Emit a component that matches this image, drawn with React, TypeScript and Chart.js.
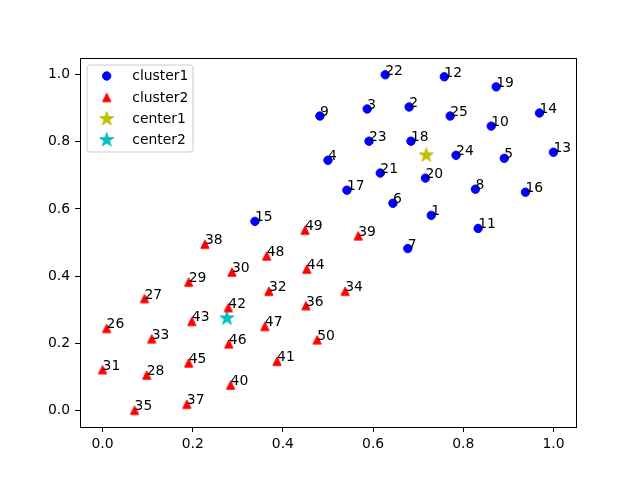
import React, { useEffect, useRef } from "react";
import { Chart, registerables } from "chart.js";

Chart.register(...registerables);

// ---------- data ----------
const cluster1Ids = [1, 2, 3, 4, 5, 6, 7, 8, 9, 10, 11, 12, 13, 14, 15, 16, 17, 18, 19, 20, 21, 22, 23, 24, 25];
const cluster1X = [0.729, 0.68, 0.587, 0.5, 0.891, 0.644, 0.677, 0.827, 0.482, 0.862, 0.833, 0.758, 1.0, 0.969, 0.338, 0.938, 0.542, 0.684, 0.873, 0.716, 0.616, 0.627, 0.591, 0.784, 0.771];
const cluster1Y = [0.581, 0.904, 0.898, 0.745, 0.751, 0.617, 0.482, 0.659, 0.877, 0.847, 0.542, 0.994, 0.769, 0.886, 0.563, 0.65, 0.656, 0.802, 0.964, 0.692, 0.707, 1.0, 0.802, 0.76, 0.877];

const cluster2Ids = [26, 27, 28, 29, 30, 31, 32, 33, 34, 35, 36, 37, 38, 39, 40, 41, 42, 43, 44, 45, 46, 47, 48, 49, 50];
const cluster2X = [0.009, 0.093, 0.098, 0.191, 0.287, 0.0, 0.369, 0.109, 0.538, 0.071, 0.451, 0.187, 0.227, 0.567, 0.284, 0.387, 0.279, 0.198, 0.453, 0.191, 0.28, 0.36, 0.364, 0.449, 0.476];
const cluster2Y = [0.244, 0.333, 0.105, 0.382, 0.412, 0.121, 0.355, 0.213, 0.355, 0.0, 0.312, 0.018, 0.495, 0.52, 0.075, 0.146, 0.306, 0.265, 0.421, 0.141, 0.198, 0.25, 0.46, 0.537, 0.21];

const center1 = [0.718, 0.76];
const center2 = [0.276, 0.274];

const seriesNames = ["cluster1", "cluster2", "center1", "center2"];
const xTicks = [0.0, 0.2, 0.4, 0.6, 0.8, 1.0];
const yTicks = [0.0, 0.2, 0.4, 0.6, 0.8, 1.0];

// ---------- styling ----------
const FONT_FAMILY = "'DejaVu Sans', sans-serif";
const FONT_SIZE = 13.9;
const BLUE = "#0000ff";
const RED = "#ff0000";
const YELLOW = "#bfbf00";
const CYAN = "#00bfbf";

function makeTriangle(color: string): HTMLCanvasElement {
  const c = document.createElement("canvas");
  c.width = 12;
  c.height = 12;
  const ctx = c.getContext("2d")!;
  const h = 4.17;
  ctx.beginPath();
  ctx.moveTo(6, 6 - h);
  ctx.lineTo(6 - h, 6 + h);
  ctx.lineTo(6 + h, 6 + h);
  ctx.closePath();
  ctx.fillStyle = color;
  ctx.strokeStyle = color;
  ctx.lineWidth = 1;
  ctx.lineJoin = "miter";
  ctx.fill();
  ctx.stroke();
  return c;
}

function makeStar(color: string): HTMLCanvasElement {
  const c = document.createElement("canvas");
  c.width = 20;
  c.height = 20;
  const ctx = c.getContext("2d")!;
  const R = 7.4;
  const r = R * 0.381966;
  ctx.beginPath();
  for (let i = 0; i < 10; i++) {
    const ang = Math.PI / 2 + (i * Math.PI) / 5;
    const rad = i % 2 === 0 ? R : r;
    const px = 10 + rad * Math.cos(ang);
    const py = 10 - rad * Math.sin(ang);
    if (i === 0) ctx.moveTo(px, py);
    else ctx.lineTo(px, py);
  }
  ctx.closePath();
  ctx.fillStyle = color;
  ctx.strokeStyle = color;
  ctx.lineWidth = 1;
  ctx.lineJoin = "miter";
  ctx.fill();
  ctx.stroke();
  return c;
}

export default function App() {
  const ref = useRef<HTMLCanvasElement | null>(null);

  useEffect(() => {
    if (!ref.current) return;
    const tri = makeTriangle(RED);
    const star1 = makeStar(YELLOW);
    const star2 = makeStar(CYAN);

    const labelPlugin = {
      id: "pointLabels",
      afterDatasetsDraw(chart: any) {
        const ctx = chart.ctx;
        const xs = chart.scales.x;
        const ys = chart.scales.y;
        ctx.save();
        ctx.font = `${FONT_SIZE}px ${FONT_FAMILY}`;
        ctx.fillStyle = "#000";
        ctx.textAlign = "left";
        ctx.textBaseline = "alphabetic";
        const draw = (ids: number[], X: number[], Y: number[]) => {
          ids.forEach((id, i) => {
            ctx.fillText(String(id), xs.getPixelForValue(X[i]), ys.getPixelForValue(Y[i]));
          });
        };
        draw(cluster1Ids, cluster1X, cluster1Y);
        draw(cluster2Ids, cluster2X, cluster2Y);
        ctx.restore();
      },
      afterDraw(chart: any) {
        const ctx = chart.ctx;
        const a = chart.chartArea;
        ctx.save();
        // frame (spines)
        ctx.strokeStyle = "#000";
        ctx.lineWidth = 1;
        ctx.strokeRect(Math.round(a.left) + 0.5, Math.round(a.top) + 0.5, Math.round(a.right - a.left), Math.round(a.bottom - a.top));
        // legend
        const lx = a.left + 7;
        const ly = a.top + 7;
        const lw = 106;
        const lh = 87;
        const rr = 3;
        ctx.beginPath();
        ctx.moveTo(lx + rr, ly);
        ctx.lineTo(lx + lw - rr, ly);
        ctx.quadraticCurveTo(lx + lw, ly, lx + lw, ly + rr);
        ctx.lineTo(lx + lw, ly + lh - rr);
        ctx.quadraticCurveTo(lx + lw, ly + lh, lx + lw - rr, ly + lh);
        ctx.lineTo(lx + rr, ly + lh);
        ctx.quadraticCurveTo(lx, ly + lh, lx, ly + lh - rr);
        ctx.lineTo(lx, ly + rr);
        ctx.quadraticCurveTo(lx, ly, lx + rr, ly);
        ctx.closePath();
        ctx.fillStyle = "rgba(255,255,255,0.8)";
        ctx.fill();
        ctx.strokeStyle = "#cccccc";
        ctx.lineWidth = 1;
        ctx.stroke();

        const rowY = [a.top + 18, a.top + 39.5, a.top + 61, a.top + 82];
        const mx = a.left + 26.7;
        const tx = a.left + 52.3;
        // circle marker
        ctx.beginPath();
        ctx.arc(mx, rowY[0], 4.2, 0, Math.PI * 2);
        ctx.fillStyle = BLUE;
        ctx.strokeStyle = BLUE;
        ctx.fill();
        ctx.stroke();
        ctx.drawImage(tri, mx - 6, rowY[1] - 6);
        ctx.drawImage(star1, mx - 10, rowY[2] - 10);
        ctx.drawImage(star2, mx - 10, rowY[3] - 10);
        ctx.font = `${FONT_SIZE}px ${FONT_FAMILY}`;
        ctx.fillStyle = "#000";
        ctx.textAlign = "left";
        ctx.textBaseline = "middle";
        seriesNames.forEach((n, i) => ctx.fillText(n, tx, rowY[i] + 0.5));
        ctx.restore();
      },
    };

    const toPts = (X: number[], Y: number[]) => X.map((x, i) => ({ x, y: Y[i] }));

    const tickFont = { family: FONT_FAMILY, size: FONT_SIZE };

    const chart = new Chart(ref.current, {
      type: "scatter",
      data: {
        datasets: [
          {
            label: seriesNames[0],
            data: toPts(cluster1X, cluster1Y),
            pointStyle: "circle",
            pointRadius: 4.2,
            borderWidth: 1,
            backgroundColor: BLUE,
            borderColor: BLUE,
          },
          {
            label: seriesNames[1],
            data: toPts(cluster2X, cluster2Y),
            pointStyle: tri as any,
            pointRadius: 5,
            backgroundColor: RED,
            borderColor: RED,
          },
          {
            label: seriesNames[2],
            data: [{ x: center1[0], y: center1[1] }],
            pointStyle: star1 as any,
            pointRadius: 8,
            backgroundColor: YELLOW,
            borderColor: YELLOW,
          },
          {
            label: seriesNames[3],
            data: [{ x: center2[0], y: center2[1] }],
            pointStyle: star2 as any,
            pointRadius: 8,
            backgroundColor: CYAN,
            borderColor: CYAN,
          },
        ],
      },
      options: {
        responsive: false,
        animation: false,
        events: [],
        layout: { padding: { top: 58, right: 64, left: 0, bottom: 0 } },
        plugins: {
          legend: { display: false },
          tooltip: { enabled: false },
        },
        scales: {
          x: {
            type: "linear",
            min: -0.05,
            max: 1.05,
            afterBuildTicks: (s: any) => {
              s.ticks = xTicks.map((v) => ({ value: v }));
            },
            afterFit: (s: any) => {
              s.height = 53;
            },
            grid: {
              display: true,
              drawOnChartArea: false,
              drawTicks: true,
              tickLength: 5,
              tickColor: "#000",
              tickWidth: 1,
            },
            border: { display: true, color: "#000", width: 1 },
            ticks: {
              color: "#000",
              font: tickFont,
              padding: 4,
              maxRotation: 0,
              autoSkip: false,
              callback: (v: any) => Number(v).toFixed(1),
            },
          },
          y: {
            type: "linear",
            min: -0.05,
            max: 1.05,
            afterBuildTicks: (s: any) => {
              s.ticks = yTicks.map((v) => ({ value: v }));
            },
            afterFit: (s: any) => {
              s.width = 80;
            },
            grid: {
              display: true,
              drawOnChartArea: false,
              drawTicks: true,
              tickLength: 5,
              tickColor: "#000",
              tickWidth: 1,
            },
            border: { display: true, color: "#000", width: 1 },
            ticks: {
              color: "#000",
              font: tickFont,
              padding: 5,
              autoSkip: false,
              callback: (v: any) => Number(v).toFixed(1),
            },
          },
        },
      },
      plugins: [labelPlugin],
    } as any);

    return () => chart.destroy();
  }, []);

  return (
    <div style={{ position: "fixed", left: 0, top: 0, width: 640, height: 480, background: "#fff" }}>
      <canvas ref={ref} width={640} height={480} />
    </div>
  );
}
